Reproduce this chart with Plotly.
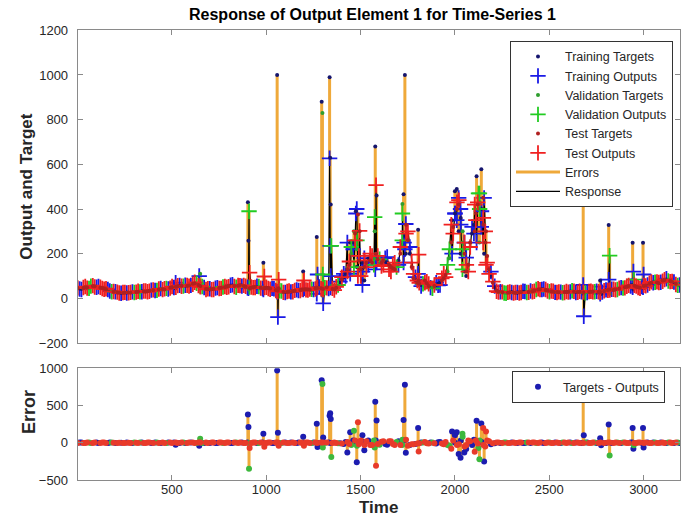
import numpy as np
import plotly.graph_objects as go

# ---------------- data ----------------
# samples at t = 1, 21, 41, ...
base_target = [
    45, 42, 50, 48, 55, 52, 48, 44, 38, 32,
    28, 25, 24, 26, 25, 28, 30, 32, 30, 34,
    36, 38, 42, 40, 45, 50, 52, 55, 58, 55,
    62, 68, 60, 50, 42, 40, 42, 45, 48, 50,
    55, 58, 52, 60, 55, 50, 48, 52, 50, 46,
    48, 44, 40, 34, 30, 28, 30, 32, 35, 38,
    42, 40, 38, 45, 48, 42, 50, 45, 40, 55,
    85, 110, 150, 250, 220, 130, 140, 180, 160, 200,
    150, 170, 160, 140, 130, 170, 230, 330, 200, 90,
    70, 60, 80, 55, 50, 60, 70, 90, 120, 250,
    380, 420, 300, 120, 250, 330, 420, 400, 250, 130,
    70, 35, 28, 26, 25, 28, 24, 26, 30, 28,
    30, 35, 40, 42, 38, 32, 30, 28, 26, 28,
    30, 32, 28, 30, 26, 28, 30, 32, 28, 30,
    35, 40, 38, 42, 45, 50, 55, 60, 52, 48,
    55, 62, 70, 75, 68, 80, 85, 78, 70, 60,
]
base_output = [
    47, 40, 53, 45, 57, 50, 50, 41, 40, 30,
    30, 24, 26, 24, 27, 26, 32, 30, 33, 32,
    38, 36, 44, 43, 42, 53, 50, 58, 55, 58,
    58, 72, 57, 53, 40, 43, 40, 48, 45, 53,
    52, 61, 50, 57, 58, 47, 51, 49, 53, 44,
    50, 41, 43, 31, 33, 26, 33, 30, 38, 35,
    45, 37, 41, 42, 51, 40, 47, 48, 37, 60,
    95, 100, 165, 220, 260, 100, 170, 150, 190, 170,
    175, 150, 185, 120, 160, 150, 260, 290, 230, 110,
    80, 55, 70, 65, 45, 70, 60, 110, 150, 330,
    380, 440, 220, 150, 230, 290, 430, 390, 300, 110,
    75, 32, 30, 24, 27, 26, 26, 24, 32, 26,
    33, 32, 43, 40, 40, 30, 32, 26, 28, 26,
    28, 34, 26, 32, 28, 26, 32, 30, 30, 28,
    38, 37, 41, 40, 48, 47, 58, 57, 55, 45,
    58, 60, 74, 72, 71, 77, 88, 75, 73, 58,
]
# T = training, V = validation, R = test
base_split = (
    "RTRVRTRRTV" "TRRTRVRTRR" "RVTRTRRTVR" "TRRVRTRTRR"
    "RTVRRTRRVT" "RRTRVTRRTR" "TRVRTRRTRV" "RTRTVRRTRT"
    "VRTRRTVRTR" "RTRRVTTRVR" "TRVRRTRTRR" "RRTVRTRRTV"
    "TRRTRVRRTR" "RVTRRTRVRT" "TRRVTRRTRR" "RTRVRRTRTV"
)
# samples at t = 11, 31, 51, ...
mid_target = [
    44, 47, 49, 52, 54, 50, 46, 41, 35, 30,
    26, 24, 25, 26, 27, 29, 31, 31, 32, 35,
    37, 40, 41, 43, 48, 51, 54, 57, 56, 58,
    66, 64, 55, 46, 41, 41, 44, 47, 49, 53,
    57, 55, 56, 58, 52, 49, 50, 51, 48, 47,
    46, 42, 37, 32, 29, 29, 31, 34, 37, 40,
    41, 39, 42, 47, 45, 46, 47, 42, 48, 70,
    95, 130, 200, 290, 170, 135, 160, 170, 180, 175,
    160, 165, 150, 135, 150, 200, 280, 260, 140, 80,
    65, 70, 68, 52, 55, 65, 80, 105, 180, 320,
    400, 360, 200, 150, 290, 380, 430, 330, 190, 100,
    50, 30, 27, 25, 27, 26, 25, 28, 29, 29,
    32, 38, 41, 40, 35, 31, 29, 27, 27, 29,
    31, 30, 29, 28, 27, 29, 31, 30, 29, 32,
    38, 39, 40, 44, 48, 52, 58, 56, 50, 51,
    58, 66, 72, 71, 74, 82, 81, 74, 65, 58,
]
mid_output = [
    42, 49, 46, 55, 51, 53, 44, 43, 33, 31,
    28, 23, 27, 25, 29, 28, 29, 33, 30, 37,
    35, 42, 39, 45, 46, 49, 57, 54, 59, 55,
    63, 67, 52, 49, 43, 39, 46, 44, 51, 50,
    59, 53, 58, 55, 54, 51, 48, 54, 46, 49,
    44, 45, 35, 34, 27, 31, 29, 36, 35, 42,
    38, 42, 40, 49, 43, 48, 44, 45, 52, 75,
    110, 120, 230, 260, 190, 120, 140, 200, 150, 190,
    145, 180, 130, 150, 140, 230, 250, 300, 160, 95,
    70, 65, 75, 48, 60, 58, 90, 95, 220, 290,
    430, 330, 250, 120, 320, 350, 400, 360, 160, 120,
    55, 28, 29, 23, 29, 24, 27, 26, 31, 27,
    30, 40, 39, 42, 33, 33, 27, 29, 25, 31,
    29, 32, 27, 30, 25, 31, 29, 32, 27, 34,
    36, 41, 38, 46, 46, 54, 55, 59, 48, 53,
    56, 68, 70, 74, 72, 84, 78, 76, 62, 60,
]
mid_split = (
    "TRRVRTRRTR" "RTRRTRVRRT" "TRRVRTRRTR" "RVRTRRTRVR"
    "TRRTRVRTRR" "RTRVRRTRTR" "RRTRRVTRRT" "TRVRRTRRVR"
    "RTRRVRTRRT" "RVRTRTRRVR" "RTRRTRVRRT" "TRRVRRTRTR"
    "RVRTRRTRVR" "TRRTVRRTRR" "RTRRVRTRRT" "RRTRTRVRRT"
)

spike_time = [520, 645, 650, 903, 906, 909, 912, 985, 990, 1058,
              1062, 1066, 1196, 1200, 1268, 1272, 1294, 1298, 1300, 1302,
              1336, 1339, 1342, 1345, 1430, 1445, 1465, 1475, 1480, 1486,
              1495, 1510, 1520, 1575, 1578, 1582, 1585, 1722, 1728, 1735,
              1740, 1805, 1808, 1985, 2000, 2010, 2020, 2030, 2040, 2050,
              2060, 2105, 2115, 2125, 2130, 2140, 2150, 2155, 2165, 2680,
              2683, 2770, 2775, 2815, 2820, 2942, 2946, 2948, 2997, 3000]
spike_target = [45, 60, 110, 430, 258, 40, 45, 160, 45, 1000,
                50, 45, 120, 40, 275, 50, 880, 830, 45, 50,
                990, 630, 420, 45, 120, 250, 300, 390, 140, 376,
                300, 160, 80, 300, 680, 200, 460, 422, 466, 1000,
                200, 307, 80, 350, 480, 490, 300, 200, 250, 120,
                100, 300, 547, 400, 250, 578, 450, 200, 300, 760,
                20, 80, 20, 329, 20, 249, 40, 50, 249, 45]
spike_output = [70, 100, 55, 50, 45, 390, 115, 40, 98, 30,
                -84, 84, 40, 80, 20, 107, 40, 40, 107, -22,
                627, 235, 100, 235, 250, 110, 140, 380, 400, 100,
                302, 60, 180, 364, 130, 507, 160, 380, 160, 220,
                333, 110, 196, 200, 380, 350, 450, 400, 130, 250,
                182, 420, 250, 470, 470, 320, 250, 450, 150, 60,
                -80, 20, 53, 84, 191, 50, 120, 84, 50, 107]
spike_split = ("TTVTTVRTRT" "TRTRTTTVVT" "TTTVTTVTTR"
               "RTTVTRTVTT" "TTRTTTTTVT" "TRTVVTRTRT" "TTTTVTTVTT")

x_ticks = [500, 1000, 1500, 2000, 2500, 3000]

# ---------------- assemble ----------------
t_all = np.concatenate([np.arange(1, 3200, 20), np.arange(11, 3200, 20), np.array(spike_time)])
tg_all = np.concatenate([np.array(base_target, float), np.array(mid_target, float),
                         np.array(spike_target, float)])
op_all = np.concatenate([np.array(base_output, float), np.array(mid_output, float),
                         np.array(spike_output, float)])
sp_all = np.array(list(base_split + mid_split + spike_split))
order = np.argsort(t_all, kind="stable")
t_all, tg_all, op_all, sp_all = t_all[order], tg_all[order], op_all[order], sp_all[order]
err_all = tg_all - op_all

FONT = "Liberation Sans, Arial, Helvetica, sans-serif"
ORANGE = "#efa93a"
AXC = "#8a8a8a"
TXT = "#262626"

fig = go.Figure()

# error segments (top)
ex, ey = [], []
for t, a, b in zip(t_all, tg_all, op_all):
    ex += [t, t, None]
    ey += [a, b, None]
fig.add_trace(go.Scatter(x=ex, y=ey, mode="lines", line=dict(color=ORANGE, width=3),
                         name="Errors", legendrank=7, xaxis="x", yaxis="y"))
# response line
fig.add_trace(go.Scatter(x=t_all, y=op_all, mode="lines", line=dict(color="black", width=1.2),
                         name="Response", legendrank=8, xaxis="x", yaxis="y"))

groups = [("T", "Training", "#15156e", "#1a1ae6"),
          ("V", "Validation", "#2e9e2e", "#22cc22"),
          ("R", "Test", "#b02020", "#f02020")]
rank = 1
for key, nm, ctg, cop in groups:
    m = sp_all == key
    fig.add_trace(go.Scatter(x=t_all[m], y=op_all[m], mode="markers",
                             marker=dict(symbol="cross-thin-open", size=11, color=cop,
                                         line=dict(color=cop, width=1.8)),
                             name=nm + " Outputs", legendrank=rank + 1, xaxis="x", yaxis="y"))
    fig.add_trace(go.Scatter(x=t_all[m], y=tg_all[m], mode="markers",
                             marker=dict(symbol="circle", size=4, color=ctg),
                             name=nm + " Targets", legendrank=rank, xaxis="x", yaxis="y"))
    rank += 2

# error subplot
sx, sy = [], []
for t, e in zip(t_all, err_all):
    sx += [t, t, None]
    sy += [0, e, None]
fig.add_trace(go.Scatter(x=sx, y=sy, mode="lines", line=dict(color=ORANGE, width=3),
                         showlegend=False, xaxis="x2", yaxis="y2"))
err_cols = {"T": "#1c1cb0", "V": "#3db83d", "R": "#e83a2a"}
for key in ["T", "V", "R"]:
    m = sp_all == key
    fig.add_trace(go.Scatter(x=t_all[m], y=err_all[m], mode="markers",
                             marker=dict(symbol="circle", size=6, color=err_cols[key]),
                             name="Targets - Outputs", showlegend=(key == "T"),
                             legend="legend2", xaxis="x2", yaxis="y2"))

W, H = 688, 522
xl, xr = 77.7, 680
dom_x = [xl / W, xr / W]
ax_common = dict(showline=True, linecolor=AXC, linewidth=1, mirror="ticks",
                 ticks="inside", ticklen=5, tickcolor=AXC, showgrid=False,
                 zeroline=False, tickfont=dict(family=FONT, size=13, color=TXT))

fig.update_layout(
    width=W, height=H, margin=dict(l=0, r=0, t=0, b=0),
    paper_bgcolor="white", plot_bgcolor="white",
    font=dict(family=FONT, color=TXT),
    xaxis=dict(domain=dom_x, range=[1, 3193], anchor="y", tickvals=x_ticks,
               showticklabels=False, **ax_common),
    yaxis=dict(domain=[1 - 346 / H, 1 - 24 / H], range=[-200, 1200], dtick=200,
               anchor="x", ticklabelstandoff=6, **ax_common),
    xaxis2=dict(domain=dom_x, range=[1, 3193], anchor="y2", tickvals=x_ticks,
                ticklabelstandoff=-3, **ax_common),
    yaxis2=dict(domain=[1 - 487 / H, 1 - 372 / H], range=[-500, 1000], dtick=500,
                anchor="x2", ticklabelstandoff=6, **ax_common),
    legend=dict(x=673 / W, xanchor="right", y=1 - 35 / H, yanchor="top",
                bgcolor="white", bordercolor="#333333", borderwidth=1,
                font=dict(family=FONT, size=12.5, color=TXT), itemwidth=44),
    legend2=dict(x=665 / W, xanchor="right", y=1 - 375 / H, yanchor="top",
                 bgcolor="white", bordercolor="#333333", borderwidth=1,
                 font=dict(family=FONT, size=12.5, color=TXT), itemwidth=40),
    showlegend=True,
    annotations=[
        dict(text="<b>Response of Output Element 1 for Time-Series 1</b>", x=372 / W, y=1 - 8 / H,
             xref="paper", yref="paper", yanchor="middle", xanchor="center", showarrow=False,
             font=dict(family=FONT, size=16, color="black")),
        dict(text="<b>Output and Target</b>", x=27 / W, y=1 - 185 / H, textangle=-90,
             xref="paper", yref="paper", yanchor="middle", xanchor="center", showarrow=False,
             font=dict(family=FONT, size=17, color=TXT)),
        dict(text="<b>Error</b>", x=29 / W, y=1 - 417 / H, textangle=-90,
             xref="paper", yref="paper", yanchor="middle", xanchor="center", showarrow=False,
             font=dict(family=FONT, size=18, color=TXT)),
        dict(text="<b>Time</b>", x=378 / W, y=1 - 515 / H,
             xref="paper", yref="paper", yanchor="middle", xanchor="center", showarrow=False,
             font=dict(family=FONT, size=17, color=TXT)),
    ],
)

fig.write_html("out.html")
